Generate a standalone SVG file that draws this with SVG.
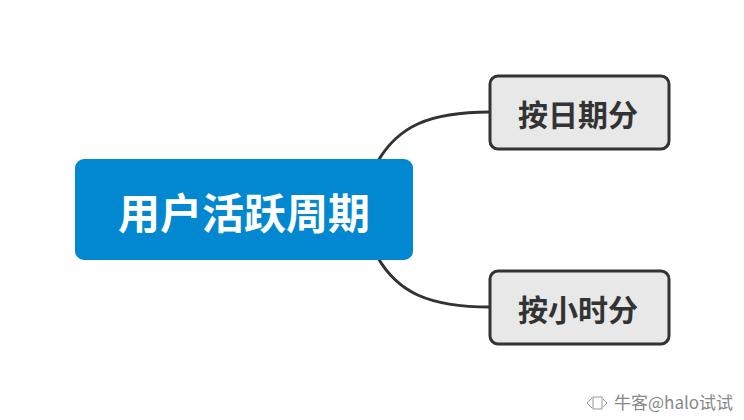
<svg xmlns="http://www.w3.org/2000/svg" width="744" height="420" viewBox="0 0 744 420">
<style>
.conn{fill:none;stroke:#333;stroke-width:3}
.child rect{fill:#e8e8e8;stroke:#333;stroke-width:3}
.child text{font-family:"Noto Sans CJK SC",sans-serif;font-weight:bold;font-size:30px;fill:#333;text-anchor:middle;dominant-baseline:central}
.root text{font-family:"Noto Sans CJK SC",sans-serif;font-weight:bold;font-size:42px;fill:#fff;text-anchor:middle;dominant-baseline:central}
.wm{font-family:"Noto Sans CJK SC",sans-serif;font-size:17px;fill:#888}
</style>
<rect width="744" height="420" fill="#fff"/>
<g id="connectors">
<path class="conn" d="M378 161 C398 127 428 112 490 112"/>
<path class="conn" d="M378 258 C398 292 428 307 490 307"/>
</g>
<g id="root" class="root">
<rect x="75" y="159" width="338" height="101" rx="9" fill="#0288d1"/>
<text x="244" y="210">用户活跃周期</text>
</g>
<g id="n1" class="child">
<rect x="490" y="76" width="179" height="73" rx="8"/>
<text x="578" y="113">按日期分</text>
</g>
<g id="n2" class="child">
<rect x="490" y="271" width="179" height="73" rx="8"/>
<text x="578" y="308">按小时分</text>
</g>
<g id="watermark">
<g fill="none" stroke="#999" stroke-width="1">
<path d="M587 403 L592 398 M587 403 L592 408"/>
<rect x="593" y="397" width="9" height="12"/>
<path d="M603 399 L607 403 L603 407"/>
</g>
<text class="wm" x="614" y="409">牛客@halo试试</text>
</g>
</svg>
